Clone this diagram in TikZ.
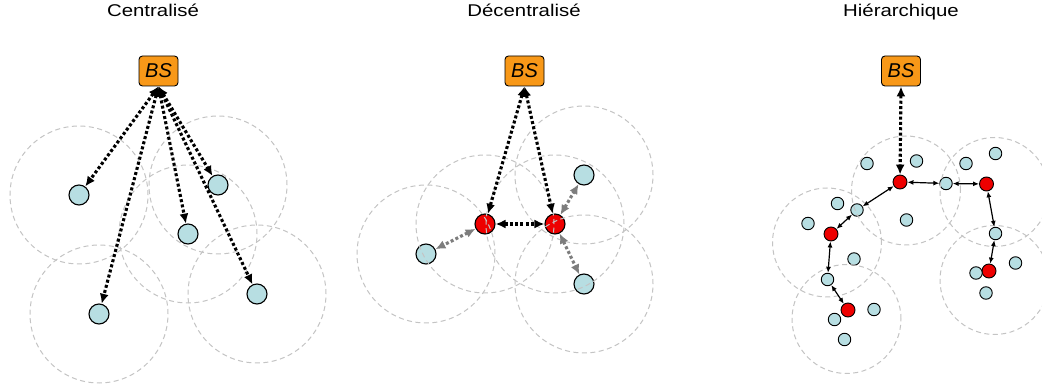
\documentclass[tikz,border=0pt]{standalone}
\usepackage{graphicx}
\usepackage{fontspec}
\setmainfont{Liberation Sans}
\usetikzlibrary{arrows.meta}

\definecolor{bsorange}{RGB}{248,152,24}
\definecolor{nodecyan}{RGB}{183,222,226}
\definecolor{headred}{RGB}{238,0,0}
\definecolor{zonegray}{RGB}{196,196,196}
\definecolor{linkgray}{RGB}{125,125,125}

\tikzset{
  paneltitle/.style={inner sep=0pt, anchor=base, font=\fontsize{17}{17}\selectfont},
  bs/.style={draw=black, line width=0.9pt, fill=bsorange, rounded corners=3.5pt,
    minimum width=39pt, minimum height=30pt, inner sep=0pt,
    font=\fontsize{20}{20}\selectfont\itshape},
  sensor/.style={circle, draw=black, line width=1.1pt, fill=nodecyan,
    minimum size=20pt, inner sep=0pt},
  head/.style={sensor, fill=headred},
  ssensor/.style={circle, draw=black, line width=0.9pt, fill=nodecyan,
    minimum size=12.5pt, inner sep=0pt},
  shead/.style={ssensor, fill=headred, minimum size=14pt},
  zone/.style={draw=zonegray, dash pattern=on 5pt off 3.5pt, line width=1pt},
  bigtip/.tip={Latex[length=10pt,width=9pt]},
  smalltip/.tip={Latex[length=6pt,width=5pt]},
  uplink/.style={bigtip-bigtip, draw=black, line width=3.1pt,
    dash pattern=on 3pt off 2.3pt},
  locallink/.style={uplink, draw=linkgray, color=linkgray},
  hop/.style={smalltip-smalltip, draw=black, line width=1.2pt},
}

\begin{document}
\begin{tikzpicture}[x=1pt, y=-1pt]
\useasboundingbox[fill=white] (0,0) rectangle (1042,387);

% ---------- titles ----------
\node[paneltitle] (t1) at (153,16.5) {\scalebox{1.2}[1]{Centralisé}};
\node[paneltitle] (t2) at (524,16.5) {\scalebox{1.2}[1]{Décentralisé}};
\node[paneltitle] (t3) at (901,16.5) {\scalebox{1.2}[1]{Hiérarchique}};

% ---------- centralised ----------
\node[bs] (bs1) at (158.5,71) {BS};
\node[sensor] (a1) at (79,195) {};
\node[sensor] (a2) at (99,314) {};
\node[sensor] (a3) at (188,234) {};
\node[sensor] (a4) at (218,185) {};
\node[sensor] (a5) at (257,294) {};

% ---------- decentralised ----------
\node[bs] (bs2) at (524.5,71) {BS};
\node[head] (h1) at (485,224) {};
\node[head] (h2) at (555,224) {};
\node[sensor] (b1) at (426,254) {};
\node[sensor] (b2) at (584,175) {};
\node[sensor] (b3) at (584,284) {};

% ---------- hierarchical ----------
\node[bs] (bs3) at (901,71) {BS};
\node[shead] (r1) at (900,182) {};
\node[shead] (r2) at (986.5,184) {};
\node[shead] (r3) at (831,234) {};
\node[shead] (r4) at (989,271) {};
\node[shead] (r5) at (848,310) {};
\node[ssensor] (g1) at (946,183.5) {};
\node[ssensor] (g2) at (857,210) {};
\node[ssensor] (g3) at (995.5,233.5) {};
\node[ssensor] (g4) at (827.5,279.5) {};
\node[ssensor] (s1) at (867,163.5) {};
\node[ssensor] (s2) at (916.5,161) {};
\node[ssensor] (s3) at (966,163.5) {};
\node[ssensor] (s4) at (995.5,153.5) {};
\node[ssensor] (s5) at (837.5,203.5) {};
\node[ssensor] (s6) at (808,223.5) {};
\node[ssensor] (s7) at (906.5,220) {};
\node[ssensor] (s8) at (854,259) {};
\node[ssensor] (s9) at (874,309.5) {};
\node[ssensor] (s10) at (834.5,319.5) {};
\node[ssensor] (s11) at (844.5,339.5) {};
\node[ssensor] (s12) at (1015.5,263) {};
\node[ssensor] (s13) at (976,273) {};
\node[ssensor] (s14) at (986,293) {};

% ---------- radio ranges ----------
\foreach \n in {a1,a2,a3,a4,a5,b1,b2,b3,h1,h2}
  \draw[zone] (\n.center) circle[radius=69pt];
\foreach \cx/\cy in {906/190.5, 827/242.5, 994.5/192, 846.5/319, 994.5/280}
  \draw[zone] (\cx,\cy) circle[radius=54.5pt];

% ---------- links ----------
\foreach \n in {a1,a2,a3,a4,a5}
  \draw[uplink] (bs1.south) -- (\n);

\draw[uplink] (bs2.south) -- (h1);
\draw[uplink] (bs2.south) -- (h2);
\draw[uplink] (h1) -- (h2);
\draw[locallink] (h1) -- (b1);
\draw[locallink] (h2) -- (b2);
\draw[locallink] (h2) -- (b3);

\draw[uplink] (bs3.south) -- (r1);
\draw[hop] (r1) -- (g1);
\draw[hop] (g1) -- (r2);
\draw[hop] (r2) -- (g3);
\draw[hop] (g3) -- (r4);
\draw[hop] (r1) -- (g2);
\draw[hop] (g2) -- (r3);
\draw[hop] (r3) -- (g4);
\draw[hop] (g4) -- (r5);
\end{tikzpicture}
\end{document}
